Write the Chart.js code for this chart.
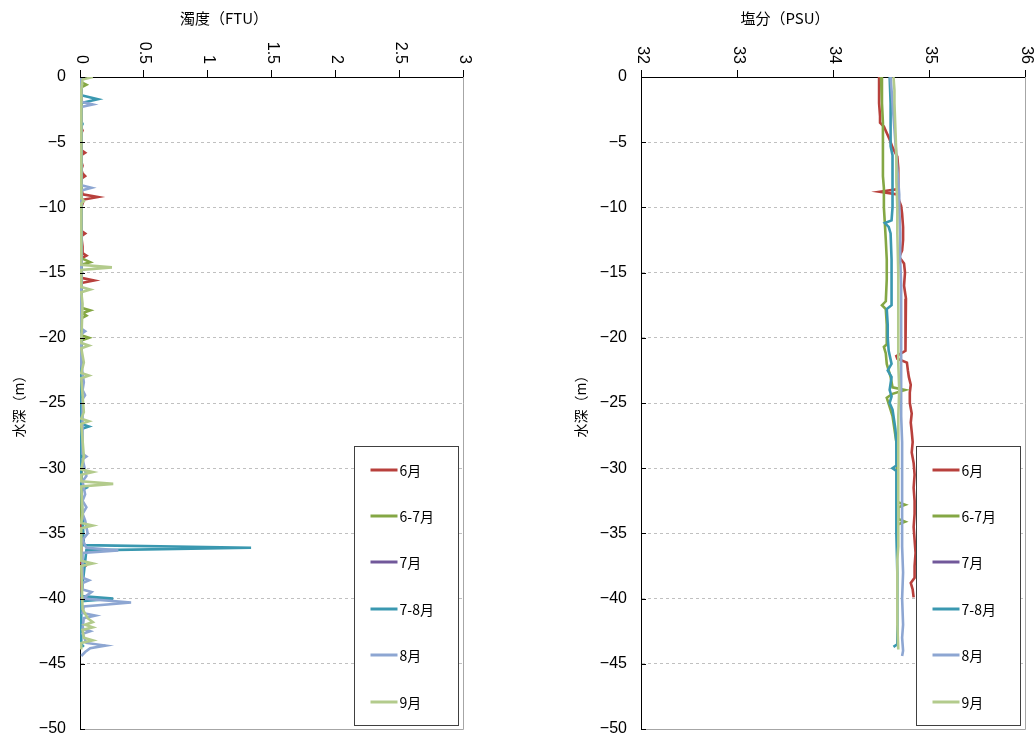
<!DOCTYPE html>
<html>
<head>
<meta charset="utf-8">
<title>水深プロファイル</title>
<script src="https://cdn.jsdelivr.net/npm/chart.js@4.4.1/dist/chart.umd.min.js"></script>
<style>
  html, body { margin: 0; padding: 0; background: #ffffff; }
  #wrap { position: relative; width: 1036px; height: 742px; }
  canvas { position: absolute; top: 0; }
  #turb { left: 0; }
  #sal { left: 518px; }
</style>
</head>
<body>
<div id="wrap">
  <canvas id="turb" width="518" height="742"></canvas>
  <canvas id="sal" width="518" height="742"></canvas>
</div>
<script>
// ---- series names and colours ----
const seriesNames = ['6月', '6-7月', '7月', '7-8月', '8月', '9月'];
const seriesColors = ['#B8403C', '#84A744', '#71589A', '#3A98B0', '#8DA6D2', '#B3CB8C'];

// ---- axis ticks ----
const depthTickValues = [0, -5, -10, -15, -20, -25, -30, -35, -40, -45, -50];
const depthTickLabels = ['0', '−5', '−10', '−15', '−20', '−25', '−30', '−35', '−40', '−45', '−50'];
const turbTickValues = [0, 0.5, 1, 1.5, 2, 2.5, 3];
const turbTickLabels = ['0', '0.5', '1', '1.5', '2', '2.5', '3'];
const salTickValues = [32, 33, 34, 35, 36];
const salTickLabels = ['32', '33', '34', '35', '36'];

// ---- turbidity (FTU) by depth (m) ----
const turbDepth6 = [0,-1,-2,-3,-3.9,-4.1,-4.3,-5,-5.6,-5.8,-6.0,-6.5,-6.8,-7.1,-7.4,-7.6,-7.8,-8.5,-9.0,-9.2,-9.4,-10,-11,-11.8,-12.0,-12.2,-13,-13.5,-13.7,-13.9,-14.5,-15.4,-15.6,-15.8,-17,-20,-25,-30,-35,-37.3,-37.5,-37.7,-40];
const turb6 = [0.01,0.01,0.01,0.01,0.01,0.02,0.01,0.01,0.01,0.04,0.01,0.01,0.02,0.01,0.02,0.04,0.01,0.01,0.02,0.14,0.03,0.01,0.01,0.01,0.04,0.01,0.02,0.02,0.05,0.01,0.01,0.01,0.11,0.01,0.01,0.01,0.01,0.01,0.01,0.01,0.04,0.01,0.01];

const turbDepth67 = [0,-0.4,-0.6,-0.8,-2,-5,-8,-10,-13.9,-14.2,-14.4,-17.7,-17.9,-18.1,-18.3,-18.5,-19.8,-20.0,-20.2,-25,-30,-34.3];
const turb67 = [0.01,0.01,0.05,0.01,0.01,0.01,0.01,0.01,0.01,0.08,0.01,0.01,0.08,0.02,0.05,0.01,0.01,0.07,0.01,0.01,0.01,0.01];

const turbDepth7 = [];
const turb7 = [];

const turbDepth78 = [0,-1.4,-1.7,-2.0,-3.4,-3.6,-3.8,-10,-20,-26.6,-26.8,-27.0,-31.3,-31.5,-31.7,-35.9,-36.1,-36.3,-39.8,-40.0,-40.2,-43.5,-43.7];
const turb78 = [0.01,0.01,0.14,0.01,0.01,0.02,0.01,0.01,0.01,0.01,0.07,0.01,0.01,0.05,0.01,0.03,1.34,0.05,0.01,0.26,0.01,0.01,0.03];

const turbDepth8 = [0,-1.9,-2.1,-2.3,-5,-8.3,-8.5,-8.7,-12,-16,-19.3,-19.5,-19.7,-22,-23.4,-24.0,-24.4,-24.7,-28.9,-29.1,-29.3,-30.6,-31,-32,-32.5,-33,-33.5,-34,-35.0,-35.5,-36.1,-36.3,-36.5,-38.4,-38.6,-38.8,-39.3,-39.5,-40.0,-40.3,-40.6,-41.1,-41.3,-41.5,-42.3,-42.5,-42.7,-43.4,-43.6,-43.8,-44.1,-44.4];
const turb8 = [0.01,0.01,0.10,0.01,0.01,0.01,0.09,0.01,0.01,0.01,0.01,0.04,0.01,0.01,0.03,0.02,0.04,0.02,0.02,0.05,0.02,0.05,0.02,0.04,0.02,0.05,0.02,0.04,0.06,0.02,0.05,0.30,0.02,0.02,0.07,0.02,0.02,0.09,0.02,0.40,0.03,0.02,0.12,0.03,0.02,0.08,0.02,0.05,0.20,0.08,0.04,0.01];

const turbDepth9 = [0,-0.2,-1,-5,-9.3,-9.5,-9.7,-14.4,-14.6,-14.8,-16.1,-16.3,-16.5,-17.4,-20.4,-20.6,-20.8,-21.9,-22.7,-22.9,-23.1,-25.7,-26.2,-26.4,-26.6,-29.1,-30.1,-30.3,-30.5,-31.0,-31.2,-31.4,-33.5,-34.2,-34.4,-34.6,-37.1,-37.3,-37.5,-40.8,-41.5,-41.8,-42.0,-42.2,-42.4,-43.0,-43.2,-43.4,-43.9];
const turb9 = [0.10,0.02,0.01,0.01,0.01,0.03,0.01,0.01,0.25,0.01,0.01,0.08,0.01,0.02,0.01,0.07,0.01,0.03,0.01,0.07,0.01,0.03,0.01,0.07,0.01,0.03,0.01,0.10,0.01,0.01,0.26,0.01,0.02,0.01,0.10,0.01,0.01,0.10,0.01,0.02,0.06,0.10,0.04,0.10,0.02,0.03,0.10,0.01,0.01];

// ---- salinity (PSU) by depth (m) ----
const salDepth6 = [0,-1,-2,-3,-3.5,-3.8,-4.3,-4.8,-5.4,-6.1,-7,-8,-8.6,-8.8,-9.0,-9.5,-9.9,-10.5,-11.5,-12.5,-13.3,-13.8,-14.3,-15,-16,-17,-18,-19,-20,-21,-21.4,-21.6,-21.9,-22.5,-23,-23.6,-24.2,-25,-25.8,-26.5,-27.2,-28,-28.8,-29.6,-30.5,-31.5,-32.5,-33.5,-34.5,-35.5,-36.5,-37.5,-38.4,-38.8,-39.3,-39.9];
const sal6 = [34.48,34.48,34.48,34.49,34.49,34.53,34.56,34.59,34.62,34.67,34.68,34.68,34.68,34.49,34.67,34.69,34.71,34.72,34.73,34.73,34.72,34.69,34.74,34.75,34.74,34.76,34.75,34.76,34.75,34.76,34.66,34.67,34.77,34.78,34.79,34.81,34.80,34.80,34.82,34.81,34.82,34.83,34.82,34.84,34.85,34.84,34.85,34.85,34.84,34.85,34.86,34.85,34.85,34.81,34.83,34.84];

const salDepth67 = [0,-1,-2,-3.5,-5,-6.5,-7.6,-8.5,-10,-11.2,-12.5,-14,-15.5,-17.2,-17.5,-17.8,-19,-20.5,-20.7,-21.2,-22,-23,-23.8,-24.0,-24.3,-24.6,-25.3,-26,-27,-28,-29,-30,-31,-32.6,-32.8,-33.0,-33.9,-34.1,-34.3];
const sal67 = [34.50,34.51,34.51,34.52,34.52,34.52,34.52,34.53,34.53,34.54,34.55,34.56,34.56,34.55,34.51,34.55,34.56,34.56,34.53,34.55,34.56,34.60,34.62,34.75,34.62,34.56,34.59,34.62,34.64,34.66,34.67,34.67,34.67,34.67,34.75,34.68,34.68,34.75,34.68];

const salDepth7 = [];
const sal7 = [];

const salDepth78 = [0,-2,-4,-5.3,-6,-8,-10,-11,-11.2,-11.5,-12,-14,-16,-17.5,-17.8,-19,-20,-21,-22,-22.5,-23,-24,-24.5,-25,-25.5,-26,-27,-28,-29.8,-30.0,-30.2,-32,-35,-38,-40,-42,-43.5,-43.7];
const sal78 = [34.59,34.60,34.60,34.60,34.62,34.62,34.62,34.61,34.54,34.58,34.60,34.61,34.61,34.61,34.56,34.57,34.57,34.58,34.61,34.57,34.61,34.59,34.61,34.59,34.62,34.63,34.65,34.66,34.66,34.62,34.66,34.66,34.66,34.67,34.67,34.67,34.67,34.63];

const salDepth8 = [0,-1,-2,-3,-4,-5,-6,-7,-8,-9,-10,-12,-14,-16,-18,-20,-22,-24,-26,-28,-30,-32,-34,-36,-38,-40,-42,-43,-44,-44.4];
const sal8 = [34.60,34.61,34.62,34.63,34.64,34.65,34.66,34.67,34.68,34.69,34.69,34.70,34.70,34.71,34.71,34.71,34.71,34.71,34.71,34.72,34.72,34.72,34.72,34.72,34.73,34.72,34.73,34.72,34.73,34.72];

const salDepth9 = [0,-1,-2,-4,-6,-8,-10,-12,-15,-18,-20,-22,-24,-26,-28,-30,-32,-34,-36,-37,-38,-40,-42,-43.9];
const sal9 = [34.63,34.64,34.64,34.65,34.66,34.66,34.67,34.67,34.68,34.68,34.68,34.68,34.69,34.68,34.68,34.68,34.68,34.68,34.68,34.67,34.67,34.67,34.67,34.68];

// ---- helpers ----
const TICK_FONT = '16px "Liberation Sans", Arial, sans-serif';
const CJK = '"Noto Sans CJK JP", "Noto Sans", sans-serif';

function toPoints(depths, values) {
  return depths.map((d, i) => ({ x: values[i], y: d }));
}

function labelFrom(values, labels) {
  return v => {
    const i = values.findIndex(t => Math.abs(t - v) < 1e-9);
    return i >= 0 ? labels[i] : '';
  };
}

// Draws the frame, inward depth ticks, clockwise-rotated top tick labels,
// the top axis title and the boxed legend.
const profileDecor = {
  id: 'profileDecor',
  afterDraw(chart, args, o) {
    const ctx = chart.ctx;
    const a = chart.chartArea;
    const xs = chart.scales.x;
    const ys = chart.scales.y;
    ctx.save();

    // right and bottom edges of the plot
    ctx.strokeStyle = '#a6a6a6';
    ctx.lineWidth = 1;
    ctx.beginPath();
    const rx = Math.round(a.right) + 0.5;
    const by = Math.round(a.bottom) + 0.5;
    ctx.moveTo(rx, a.top); ctx.lineTo(rx, by);
    ctx.moveTo(a.left, by); ctx.lineTo(rx, by);
    ctx.stroke();

    // short depth ticks pointing into the plot
    ctx.strokeStyle = '#000';
    ctx.beginPath();
    ys.ticks.forEach(t => {
      const py = Math.round(ys.getPixelForValue(t.value)) + 0.5;
      ctx.moveTo(a.left, py);
      ctx.lineTo(a.left + 5, py);
    });
    ctx.stroke();

    // top tick labels, turned a quarter clockwise
    ctx.fillStyle = '#000';
    ctx.font = TICK_FONT;
    ctx.textAlign = 'right';
    ctx.textBaseline = 'middle';
    xs.ticks.forEach(t => {
      const px = xs.getPixelForValue(t.value);
      ctx.save();
      ctx.translate(px + 1, a.top - 13);
      ctx.rotate(Math.PI / 2);
      ctx.fillText(t.label, 0, 0);
      ctx.restore();
    });

    // axis title above the tick labels
    ctx.font = '15px ' + CJK;
    ctx.textAlign = 'center';
    ctx.textBaseline = 'middle';
    ctx.fillText(o.title, a.left + o.titleShift, o.titleY);

    // legend box
    const L = o.legend;
    const lx = Math.round(a.right - L.fromRight) + 0.5;
    const ly = L.top + 0.5;
    ctx.fillStyle = '#fff';
    ctx.fillRect(lx, ly, L.w, L.h);
    ctx.strokeStyle = '#404040';
    ctx.lineWidth = 1;
    ctx.strokeRect(lx, ly, L.w, L.h);
    ctx.font = '14px ' + CJK;
    ctx.textAlign = 'left';
    ctx.textBaseline = 'middle';
    chart.data.datasets.forEach((ds, i) => {
      const y = Math.round(ly + L.first + i * L.gap);
      ctx.strokeStyle = ds.borderColor;
      ctx.lineWidth = 3;
      ctx.beginPath();
      ctx.moveTo(lx + 16, y);
      ctx.lineTo(lx + 43, y);
      ctx.stroke();
      ctx.fillStyle = '#000';
      ctx.fillText(ds.label, lx + 45, y + 1);
    });

    ctx.restore();
  }
};

function noEdgePadding(s) {
  s.paddingTop = 0; s.paddingBottom = 0; s.paddingLeft = 0; s.paddingRight = 0;
}

function makeProfile(canvasId, cfg) {
  const datasets = cfg.series.map((s, i) => ({
    label: seriesNames[i],
    data: toPoints(s[0], s[1]),
    borderColor: seriesColors[i],
    backgroundColor: seriesColors[i],
    borderWidth: 2.6,
    showLine: true,
    pointRadius: 0,
    pointHoverRadius: 0,
    tension: 0,
    fill: false,
    order: cfg.series.length - i
  }));

  return new Chart(document.getElementById(canvasId), {
    type: 'scatter',
    data: { datasets },
    options: {
      responsive: false,
      animation: false,
      events: [],
      layout: { padding: cfg.padding, autoPadding: false },
      plugins: {
        legend: { display: false },
        tooltip: { enabled: false },
        profileDecor: cfg.decor
      },
      scales: {
        x: {
          type: 'linear',
          position: 'top',
          min: cfg.xMin,
          max: cfg.xMax,
          afterFit: s => { s.height = 77; noEdgePadding(s); },
          afterBuildTicks: s => { s.ticks = cfg.xTicks.map(v => ({ value: v })); },
          ticks: { display: false, callback: labelFrom(cfg.xTicks, cfg.xLabels) },
          grid: {
            display: true,
            drawOnChartArea: false,
            drawTicks: true,
            tickLength: 7,
            tickColor: '#000',
            color: '#000'
          },
          border: { display: true, color: '#000', width: 1 }
        },
        y: {
          type: 'linear',
          position: 'left',
          min: -50,
          max: 0,
          afterFit: s => { s.width = cfg.yWidth; noEdgePadding(s); },
          afterBuildTicks: s => { s.ticks = depthTickValues.map(v => ({ value: v })); },
          ticks: {
            padding: 14,
            color: '#000',
            font: { family: '"Liberation Sans", Arial, sans-serif', size: 16 },
            callback: labelFrom(depthTickValues, depthTickLabels)
          },
          grid: {
            drawTicks: false,
            lineWidth: 1,
            color: c => (c.tick && (c.tick.value === 0 || c.tick.value === -50)) ? 'rgba(0,0,0,0)' : '#c0c0c0'
          },
          border: { display: true, color: '#000', width: 1, dash: [3, 3] },
          title: {
            display: true,
            text: '水深（m）',
            color: '#000',
            font: { family: CJK, size: 14 },
            padding: { top: 10, bottom: 0 }
          }
        }
      }
    },
    plugins: [profileDecor]
  });
}

const legendBox = { fromRight: 109, top: 446, w: 104, h: 279, first: 23, gap: 46.4 };

makeProfile('turb', {
  series: [[turbDepth6, turb6], [turbDepth67, turb67], [turbDepth7, turb7],
           [turbDepth78, turb78], [turbDepth8, turb8], [turbDepth9, turb9]],
  xMin: 0, xMax: 3,
  xTicks: turbTickValues, xLabels: turbTickLabels,
  padding: { left: 0, right: 55, top: 0, bottom: 13 },
  yWidth: 80,
  decor: { title: '濁度（FTU）', titleShift: 144, titleY: 18, legend: legendBox }
});

makeProfile('sal', {
  series: [[salDepth6, sal6], [salDepth67, sal67], [salDepth7, sal7],
           [salDepth78, sal78], [salDepth8, sal8], [salDepth9, sal9]],
  xMin: 32, xMax: 36,
  xTicks: salTickValues, xLabels: salTickLabels,
  padding: { left: 44, right: 11, top: 0, bottom: 13 },
  yWidth: 79,
  decor: { title: '塩分（PSU）', titleShift: 144, titleY: 18, legend: legendBox }
});
</script>
</body>
</html>
